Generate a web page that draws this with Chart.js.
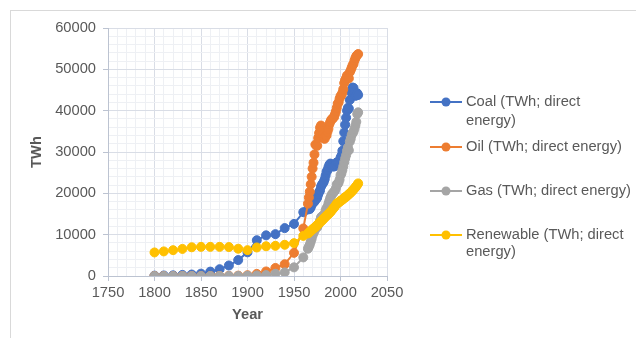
<!DOCTYPE html>
<html>
<head>
<meta charset="utf-8">
<script src="https://cdn.jsdelivr.net/npm/chart.js@4.4.1/dist/chart.umd.min.js"></script>
<style>
  html, body { margin: 0; padding: 0; background: #fff; overflow: hidden; }
  #wrap { position: relative; width: 636px; height: 338px; }
  #frame { position: absolute; left: 10px; top: 10px; width: 700px; height: 400px; border: 1px solid #d9d9d9; }
  #energyChart { position: absolute; left: 0; top: 0; }
</style>
</head>
<body>
<div id="wrap">
  <div id="frame"></div>
  <canvas id="energyChart" width="636" height="338"></canvas>
</div>
<script>
// years: by decade to 1960, then yearly
const years = [1800, 1810, 1820, 1830, 1840, 1850, 1860, 1870, 1880, 1890, 1900, 1910, 1920, 1930, 1940, 1950, 1960,
  1965, 1966, 1967, 1968, 1969, 1970, 1971, 1972, 1973, 1974, 1975, 1976, 1977, 1978, 1979,
  1980, 1981, 1982, 1983, 1984, 1985, 1986, 1987, 1988, 1989, 1990, 1991, 1992, 1993, 1994,
  1995, 1996, 1997, 1998, 1999, 2000, 2001, 2002, 2003, 2004, 2005, 2006, 2007, 2008, 2009,
  2010, 2011, 2012, 2013, 2014, 2015, 2016, 2017, 2018, 2019];

const coal = [97, 128, 153, 264, 356, 569, 1061, 1642, 2542, 3856, 5728, 8656, 9833, 10125, 11586, 12603, 15442,
  16100, 16300, 16200, 16600, 17200, 17700, 17800, 18000, 18500, 18600, 19000, 19700, 20300, 20700, 21600,
  22100, 22400, 22800, 23400, 24300, 25200, 25600, 26300, 26900, 27200, 27000, 26700, 26500, 26500, 26600,
  27000, 27500, 27500, 27300, 27700, 28600, 29100, 30300, 32600, 34700, 36600, 38300, 40000, 40700, 40500,
  42600, 44600, 44900, 45600, 45500, 44500, 43600, 43700, 44200, 43800];

const oil = [0, 0, 0, 0, 0, 0, 3, 6, 33, 89, 181, 511, 1097, 1944, 2850, 5600, 11500,
  17500, 19000, 20400, 22200, 24000, 26000, 27400, 29400, 31800, 31600, 31500, 33400, 34600, 35900, 36400,
  35200, 34200, 33300, 33200, 33800, 34000, 34900, 35600, 36700, 37300, 37800, 37900, 38300, 38400, 39100,
  39800, 40700, 41700, 42000, 42900, 43500, 43800, 44300, 45200, 46700, 47400, 47900, 48500, 48300, 47800,
  49300, 49800, 50400, 51000, 51300, 52100, 52700, 53200, 53500, 53700];

const gas = [0, 0, 0, 0, 0, 0, 0, 0, 0, 20, 64, 149, 233, 550, 875, 2092, 4500,
  6600, 7100, 7600, 8300, 9000, 9800, 10400, 10900, 11500, 11700, 11800, 12400, 12800, 13400, 14200,
  14400, 14600, 14700, 14900, 15900, 16400, 16700, 17500, 18200, 18900, 19400, 19900, 20000, 20400, 20600,
  21200, 22200, 22200, 22600, 23300, 24400, 24800, 25600, 26500, 27500, 28400, 29200, 30300, 31100, 30400,
  32500, 33200, 34100, 34600, 34900, 35600, 36400, 37300, 39200, 39600];

const renewable = [5700, 5950, 6250, 6550, 6950, 7050, 7050, 7050, 7000, 6600, 6250, 6900, 7200, 7300, 7550, 7950, 9700,
  10300, 10450, 10700, 10850, 11100, 11300, 11450, 11700, 11850, 12100, 12350, 12550, 12800, 13050, 13250,
  13400, 13650, 13900, 14150, 14350, 14600, 14800, 15000, 15250, 15450, 15700, 16000, 16250, 16550, 16850,
  17150, 17500, 17650, 17750, 17950, 18200, 18300, 18450, 18650, 18850, 19050, 19150, 19350, 19600, 19750,
  20000, 20200, 20400, 20700, 20900, 21150, 21450, 21750, 22050, 22400];

const seriesNames = ['Coal (TWh; direct energy)', 'Oil (TWh; direct energy)', 'Gas (TWh; direct energy)', 'Renewable (TWh; direct energy)'];
const legendLines = [['Coal (TWh; direct', 'energy)'], ['Oil (TWh; direct energy)'], ['Gas (TWh; direct energy)'], ['Renewable (TWh; direct', 'energy)']];
const colors = ['#4472C4', '#ED7D31', '#A5A5A5', '#FFC000'];

const textColor = '#595959';
const fontFamily = '"Liberation Sans", Arial, sans-serif';
const axisColor = '#bcc3d1';
const majorGrid = '#d9dde6';
const minorGrid = '#eef0f4';

function series(values) {
    return years.map((x, i) => ({ x: x, y: values[i] }));
}

// legend drawn to the right like the Excel original (wrapped lines)
const sideLegend = {
    id: 'sideLegend',
    afterDraw(chart) {
        const ctx = chart.ctx;
        const rows = [[102, 121], [147], [191], [235, 252]];
        ctx.save();
        ctx.font = '14.7px ' + fontFamily;
        ctx.textBaseline = 'middle';
        chart.data.datasets.forEach((ds, i) => {
            const y = rows[i][0];
            ctx.strokeStyle = ds.borderColor;
            ctx.lineWidth = 2;
            ctx.beginPath();
            ctx.moveTo(430, y);
            ctx.lineTo(462, y);
            ctx.stroke();
            ctx.fillStyle = ds.backgroundColor;
            ctx.beginPath();
            ctx.arc(446, y, 4.5, 0, Math.PI * 2);
            ctx.fill();
            ctx.fillStyle = textColor;
            legendLines[i].forEach((line, j) => ctx.fillText(line, 466, rows[i][j]));
        });
        ctx.restore();
    }
};

const datasets = [coal, oil, gas, renewable].map((vals, i) => ({
    label: seriesNames[i],
    data: series(vals),
    showLine: true,
    borderColor: colors[i],
    backgroundColor: colors[i],
    borderWidth: 2,
    pointRadius: 4.5,
    pointBorderWidth: 1,
    pointBorderColor: colors[i],
    pointBackgroundColor: colors[i],
    order: 3 - i
}));

new Chart(document.getElementById('energyChart'), {
    type: 'scatter',
    data: { datasets: datasets },
    options: {
        responsive: false,
        animation: false,
        devicePixelRatio: 1,
        layout: { padding: { left: 24, top: 28, right: 249, bottom: 10 } },
        plugins: {
            legend: { display: false },
            tooltip: { enabled: false }
        },
        scales: {
            x: {
                type: 'linear',
                min: 1750,
                max: 2050,
                afterFit: s => { s.height = 52; },
                ticks: {
                    stepSize: 10,
                    autoSkip: false,
                    maxRotation: 0,
                    padding: 3,
                    color: textColor,
                    font: { family: fontFamily, size: 14.7 },
                    callback: v => (v % 50 === 0 ? String(v) : '')
                },
                grid: {
                    tickLength: 5,
                    color: c => (c.tick && c.tick.value % 50 === 0 ? majorGrid : minorGrid),
                    tickColor: c => (c.tick && c.tick.value % 50 === 0 ? axisColor : 'rgba(0,0,0,0)')
                },
                border: { color: axisColor },
                title: {
                    display: true,
                    text: 'Year',
                    color: textColor,
                    font: { family: fontFamily, size: 14.7, weight: 'bold' }
                }
            },
            y: {
                min: 0,
                max: 60000,
                afterFit: s => { s.width = 84; },
                ticks: {
                    stepSize: 2000,
                    autoSkip: false,
                    padding: 7,
                    color: textColor,
                    font: { family: fontFamily, size: 14.7 },
                    callback: v => (v % 10000 === 0 ? String(v) : '')
                },
                grid: {
                    tickLength: 5,
                    color: c => (c.tick && c.tick.value % 10000 === 0 ? majorGrid : minorGrid),
                    tickColor: c => (c.tick && c.tick.value % 10000 === 0 ? axisColor : 'rgba(0,0,0,0)')
                },
                border: { color: axisColor },
                title: {
                    display: true,
                    text: 'TWh',
                    color: textColor,
                    font: { family: fontFamily, size: 14.7, weight: 'bold' }
                }
            }
        }
    },
    plugins: [sideLegend]
});
</script>
</body>
</html>
